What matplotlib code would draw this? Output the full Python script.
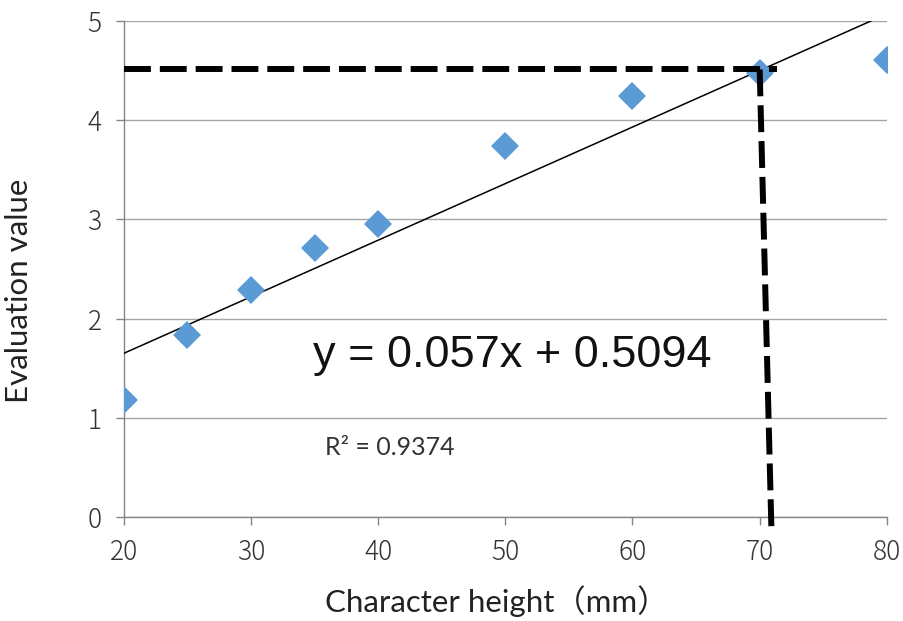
import numpy as np
import matplotlib
matplotlib.use("Agg")
import matplotlib.pyplot as plt

# data
heights = [20, 25, 30, 35, 40, 50, 60, 70, 80]
scores = [1.18, 1.83, 2.29, 2.71, 2.95, 3.74, 4.24, 4.47, 4.60]
slope, intercept = 0.057, 0.5094
r2 = 0.9374
guide_y = 4.51
guide_x_top = 70.0
guide_x_bottom = 70.9
guide_x_end = 71.4
x_ticks = [20, 30, 40, 50, 60, 70, 80]
y_ticks = [0, 1, 2, 3, 4, 5]

grid_col = "#A6A6A6"
axis_col = "#868686"
dot_col = "#5B9BD5"

fig = plt.figure(figsize=(9.04, 6.21), dpi=100)
ax = fig.add_axes([0.137, 0.1675, 0.844, 0.799])

ax.set_xlim(20, 80)
ax.set_ylim(0, 5)
ax.set_xticks(x_ticks)
ax.set_yticks(y_ticks)

ax.yaxis.grid(True, color=grid_col, linewidth=1)
ax.set_axisbelow(True)
for s in ["top", "right"]:
    ax.spines[s].set_visible(False)
for s in ["left", "bottom"]:
    ax.spines[s].set_color(axis_col)
    ax.spines[s].set_linewidth(1)

ax.tick_params(axis="both", direction="out", color=axis_col, length=6, width=1,
               labelsize=19, labelcolor="#333333")
for lab in ax.get_xticklabels() + ax.get_yticklabels():
    lab.set_family(["Noto Sans CJK JP", "DejaVu Sans"])
    lab.set_fontweight("light")
ax.tick_params(axis="x", pad=9)
ax.tick_params(axis="y", pad=10)

# trend line
tx = np.array([20, 80])
ax.plot(tx, slope * tx + intercept, color="black", linewidth=1.1, zorder=3)

# data points
ax.plot(heights, scores, linestyle="none", marker="D", markersize=14,
        color=dot_col, markeredgewidth=0, zorder=4)

# guide lines
ax.plot([20, guide_x_end], [guide_y, guide_y], color="black", linewidth=4.3,
        dashes=(4.5, 1.5), zorder=5, clip_on=False)
ax.plot([guide_x_top, guide_x_bottom + 0.02], [guide_y, -0.1], color="black",
        linewidth=4.3, dashes=(4.5, 1.5), zorder=5, clip_on=False)

ax.text(34.9, 1.63, "y = 0.057x + 0.5094", fontsize=32.5,
        family="Liberation Sans", color="#111111", va="center", ha="left")
ax.text(35.8, 0.70, "R² = " + str(r2), fontsize=18, family="Lato",
        color="#333333", va="center", ha="left")

ax.set_xlabel("Character height（mm）", fontsize=22.5,
              family=["Lato", "Noto Sans CJK JP"], color="#222222")
ax.set_ylabel("Evaluation value", fontsize=22.5, family="Lato",
              color="#222222")
ax.xaxis.set_label_coords(0.489, -0.137)
ax.yaxis.set_label_coords(-0.119, 0.455)

fig.savefig("out.png", dpi=100)
